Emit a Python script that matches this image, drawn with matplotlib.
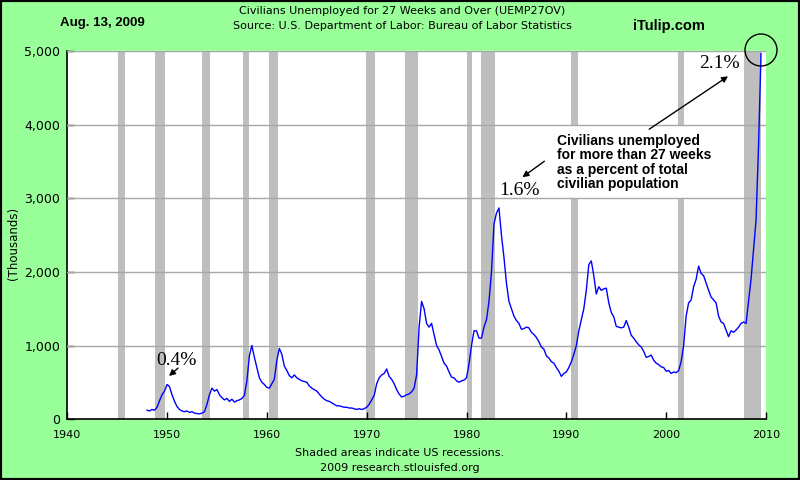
import numpy as np
import matplotlib
matplotlib.use("Agg")
import matplotlib.pyplot as plt
from matplotlib.patches import Rectangle, Ellipse
from matplotlib.ticker import FuncFormatter

# long-term unemployed, thousands, one value per quarter from 1948.0
start_year = 1948
values = [
    120, 110, 130, 120,      # 1948
    160, 250, 330, 380,      # 1949
    470, 440, 330, 240,      # 1950
    170, 130, 110, 100,      # 1951
    110, 90, 100, 80,        # 1952
    75, 70, 80, 100,         # 1953
    200, 330, 420, 380,      # 1954
    400, 330, 290, 260,      # 1955
    280, 240, 270, 230,      # 1956
    250, 260, 280, 320,      # 1957
    520, 860, 1000, 840,     # 1958
    700, 560, 500, 470,      # 1959
    430, 420, 480, 540,      # 1960
    800, 960, 880, 720,      # 1961
    660, 590, 560, 600,      # 1962
    560, 540, 520, 510,      # 1963
    500, 450, 420, 400,      # 1964
    380, 340, 300, 270,      # 1965
    250, 240, 220, 200,      # 1966
    180, 180, 170, 160,      # 1967
    160, 150, 150, 140,      # 1968
    130, 140, 130, 140,      # 1969
    160, 200, 260, 320,      # 1970
    480, 560, 600, 620,      # 1971
    680, 580, 540, 480,      # 1972
    400, 340, 300, 310,      # 1973
    330, 340, 370, 420,      # 1974
    600, 1250, 1600, 1500,   # 1975
    1300, 1250, 1300, 1150,  # 1976
    1000, 940, 850, 760,     # 1977
    720, 640, 570, 560,      # 1978
    520, 500, 520, 530,      # 1979
    560, 750, 1000, 1200,    # 1980
    1200, 1100, 1100, 1250,  # 1981
    1350, 1600, 2000, 2650,  # 1982
    2800, 2870, 2500, 2200,  # 1983
    1850, 1600, 1500, 1400,  # 1984
    1340, 1300, 1220, 1230,  # 1985
    1250, 1240, 1180, 1150,  # 1986
    1110, 1050, 980, 950,    # 1987
    860, 830, 780, 760,      # 1988
    700, 650, 580, 620,      # 1989
    640, 700, 780, 880,      # 1990
    1000, 1200, 1350, 1500,  # 1991
    1750, 2100, 2150, 1950,  # 1992
    1700, 1800, 1750, 1770,  # 1993
    1780, 1580, 1450, 1390,  # 1994
    1260, 1250, 1240, 1250,  # 1995
    1340, 1250, 1140, 1100,  # 1996
    1050, 1010, 980, 920,    # 1997
    840, 850, 870, 800,      # 1998
    760, 740, 710, 700,      # 1999
    650, 660, 620, 640,      # 2000
    630, 660, 780, 1000,     # 2001
    1400, 1580, 1620, 1800,  # 2002
    1900, 2080, 1980, 1950,  # 2003
    1850, 1750, 1660, 1620,  # 2004
    1580, 1400, 1320, 1300,  # 2005
    1210, 1120, 1200, 1180,  # 2006
    1210, 1250, 1300, 1320,  # 2007
    1300, 1600, 1900, 2300,  # 2008
    2700, 3700, 4970,        # 2009
]
dates = start_year + 0.25 * np.arange(len(values))

# NBER recessions (start, end) as decimal years
recessions = [
    (1945.08, 1945.75), (1948.83, 1949.75), (1953.5, 1954.33),
    (1957.58, 1958.25), (1960.25, 1961.08), (1969.92, 1970.83),
    (1973.83, 1975.17), (1980.0, 1980.5), (1981.5, 1982.83),
    (1990.5, 1991.17), (2001.17, 2001.83), (2007.83, 2009.5),
]

x_ticks = [1940, 1950, 1960, 1970, 1980, 1990, 2000, 2010]
y_ticks = [0, 1000, 2000, 3000, 4000, 5000]

green = "#99FF99"

fig = plt.figure(figsize=(8, 4.8), dpi=100, facecolor=green)
ax = fig.add_axes([0.084, 0.127, 0.8735, 0.766])
ax.set_facecolor("white")

for a, b in recessions:
    ax.axvspan(a, b, color="#BEBEBE", lw=0, zorder=1)

# white box behind the note text
ax.add_patch(Rectangle((1983.0, 3000), 2007.75 - 1983.0, 1000,
                       facecolor="white", edgecolor="none", zorder=2))

for v in y_ticks[1:]:
    ax.axhline(v, color="#A8A8A8", lw=1, zorder=3)

ax.plot(dates, values, color="#0000FF", lw=1, zorder=4)

ax.set_xlim(1940, 2010)
ax.set_ylim(0, 5000)
ax.set_xticks(x_ticks)
ax.set_yticks(y_ticks)
ax.yaxis.set_major_formatter(FuncFormatter(lambda v, p: f"{int(v):,}"))
ax.tick_params(direction="in", length=5, width=1, colors="black")
ax.tick_params(axis="x", pad=8, labelsize=8)
ax.tick_params(axis="y", pad=5, labelsize=9)
for s in ["top", "right"]:
    ax.spines[s].set_visible(False)
for s in ["left", "bottom"]:
    ax.spines[s].set_linewidth(1.2)
ax.set_ylabel("(Thousands)", fontsize=8.5)
ax.yaxis.set_label_coords(-0.068, 0.478)

# annotations
pct = dict(family="Liberation Serif", fontsize=14, ha="center", va="center")
arr = dict(arrowstyle="-|>", color="black", lw=1, mutation_scale=9, shrinkA=0, shrinkB=0)
ax.text(1950.9, 790, "0.4%", zorder=5, **pct)
ax.annotate("", xy=(1950.2, 585), xytext=(1951.1, 693), arrowprops=arr, zorder=5)
ax.text(1985.3, 3112, "1.6%", zorder=5, **pct)
ax.annotate("", xy=(1985.6, 3289), xytext=(1987.8, 3506), arrowprops=arr, zorder=5)
ax.text(2005.3, 4838, "2.1%", zorder=5, **pct)
ax.annotate("", xy=(2006.2, 4661), xytext=(1998.3, 3941), arrowprops=arr, zorder=5)
ax.text(1989.05, 3880, "Civilians unemployed\nfor more than 27 weeks\nas a percent of total\ncivilian population",
        family="Liberation Sans", fontweight="bold", fontsize=10, ha="left", va="top",
        linespacing=1.05, zorder=5)

# header and footer
fig.text(0.5025, 1 - 11 / 480, "Civilians Unemployed for 27 Weeks and Over (UEMP27OV)",
         ha="center", va="center", fontsize=8)
fig.text(0.5025, 1 - 26 / 480, "Source: U.S. Department of Labor: Bureau of Labor Statistics",
         ha="center", va="center", fontsize=8)
fig.text(102 / 800, 1 - 23 / 480, "Aug. 13, 2009", ha="center", va="center",
         family="Liberation Sans", fontweight="bold", fontsize=9.5)
fig.text(669 / 800, 1 - 26 / 480, "iTulip.com", ha="center", va="center",
         family="Liberation Sans", fontweight="bold", fontsize=10.5)
fig.text(0.5, 1 - 453 / 480, "Shaded areas indicate US recessions.", ha="center", va="center", fontsize=8)
fig.text(0.5, 1 - 468 / 480, "2009 research.stlouisfed.org", ha="center", va="center", fontsize=8)

# circle around the latest value, and the frame
fig.add_artist(Ellipse((761 / 800, 1 - 50 / 480), 32 / 800, 32 / 480,
                       transform=fig.transFigure, fill=False, edgecolor="black", lw=1))
fig.add_artist(Rectangle((0, 0), 1, 1, transform=fig.transFigure, fill=False,
                         edgecolor="black", lw=3))

fig.savefig("out.png", dpi=100, facecolor=green)
